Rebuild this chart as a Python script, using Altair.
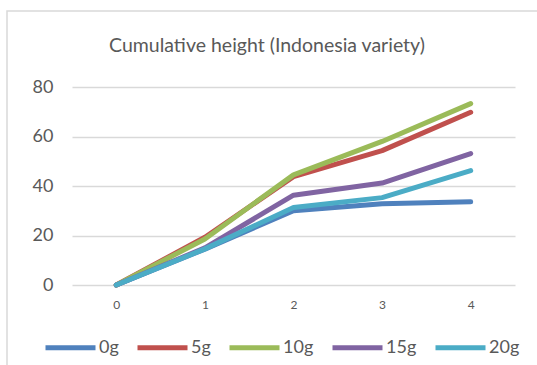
import altair as alt
import pandas as pd

# Days (x categories) and cumulative height per dose
days = ["0", "1", "2", "3", "4"]
series = ["0g", "5g", "10g", "15g", "20g"]
h_0g = [0, 14.5, 30.0, 32.8, 33.6]
h_5g = [0, 19.3, 43.8, 54.3, 69.8]
h_10g = [0, 18.6, 44.5, 58.0, 73.3]
h_15g = [0, 15.0, 36.3, 41.2, 53.1]
h_20g = [0, 14.6, 31.3, 35.3, 46.2]
colors = ["#4F81BD", "#C0504D", "#9BBB59", "#8064A2", "#4BACC6"]
title_text = "Cumulative height (Indonesia variety)"

rows = []
for name, vals in zip(series, [h_0g, h_5g, h_10g, h_15g, h_20g]):
    for d, v in zip(days, vals):
        rows.append({"day": d, "dose": name, "height": v})
df = pd.DataFrame(rows)

FONT = "Lato"
TXT = "#595959"

lines = alt.Chart(df).mark_line(
    strokeWidth=5, strokeCap="round", strokeJoin="round"
).encode(
    x=alt.X("day:O", sort=days, title=None,
            scale=alt.Scale(type="point", padding=0.5),
            axis=alt.Axis(labelAngle=0, labelFontSize=12, labelColor=TXT,
                          labelFont=FONT, domain=False, ticks=False,
                          labelPadding=14, grid=False)),
    y=alt.Y("height:Q", title=None,
            scale=alt.Scale(domain=[0, 80], nice=False),
            axis=alt.Axis(values=[0, 20, 40, 60, 80], labelFontSize=18,
                          labelColor=TXT, labelFont=FONT, domain=False,
                          ticks=False, labelPadding=19, gridColor="#D9D9D9",
                          gridWidth=1.5)),
    color=alt.Color("dose:N", sort=series,
                    scale=alt.Scale(domain=series, range=colors),
                    legend=alt.Legend(
                        title=None, orient="none", direction="horizontal",
                        columns=5, legendX=-29, legendY=233,
                        symbolType="stroke", symbolSize=2500,
                        symbolStrokeWidth=5, labelFontSize=18,
                        labelColor=TXT, labelFont=FONT, labelOffset=1,
                        columnPadding=8)),
    order=alt.Order("day:O"),
)

# outer frame of the chart area
frame = alt.Chart(pd.DataFrame({"k": [0]})).mark_rect(
    fill=None, stroke="#D9D9D9", strokeWidth=1.5
).encode(
    x=alt.value(-65), x2=alt.value(600),
    y=alt.value(-76), y2=alt.value(400),
)

# chart heading, centred over the whole chart area
heading = alt.Chart(pd.DataFrame({"t": [title_text]})).mark_text(
    font=FONT, fontSize=19.5, color=TXT, align="center", baseline="middle"
).encode(
    text="t:N", x=alt.value(195), y=alt.value(-41),
)

chart = alt.layer(frame, lines, heading).properties(
    width=443, height=198,
    autosize=alt.AutoSizeParams(type="none"),
    padding={"left": 72, "top": 87, "right": 22, "bottom": 80},
).configure_view(stroke=None)

chart.save("out.html", embed_options={"renderer": "svg", "actions": False})
